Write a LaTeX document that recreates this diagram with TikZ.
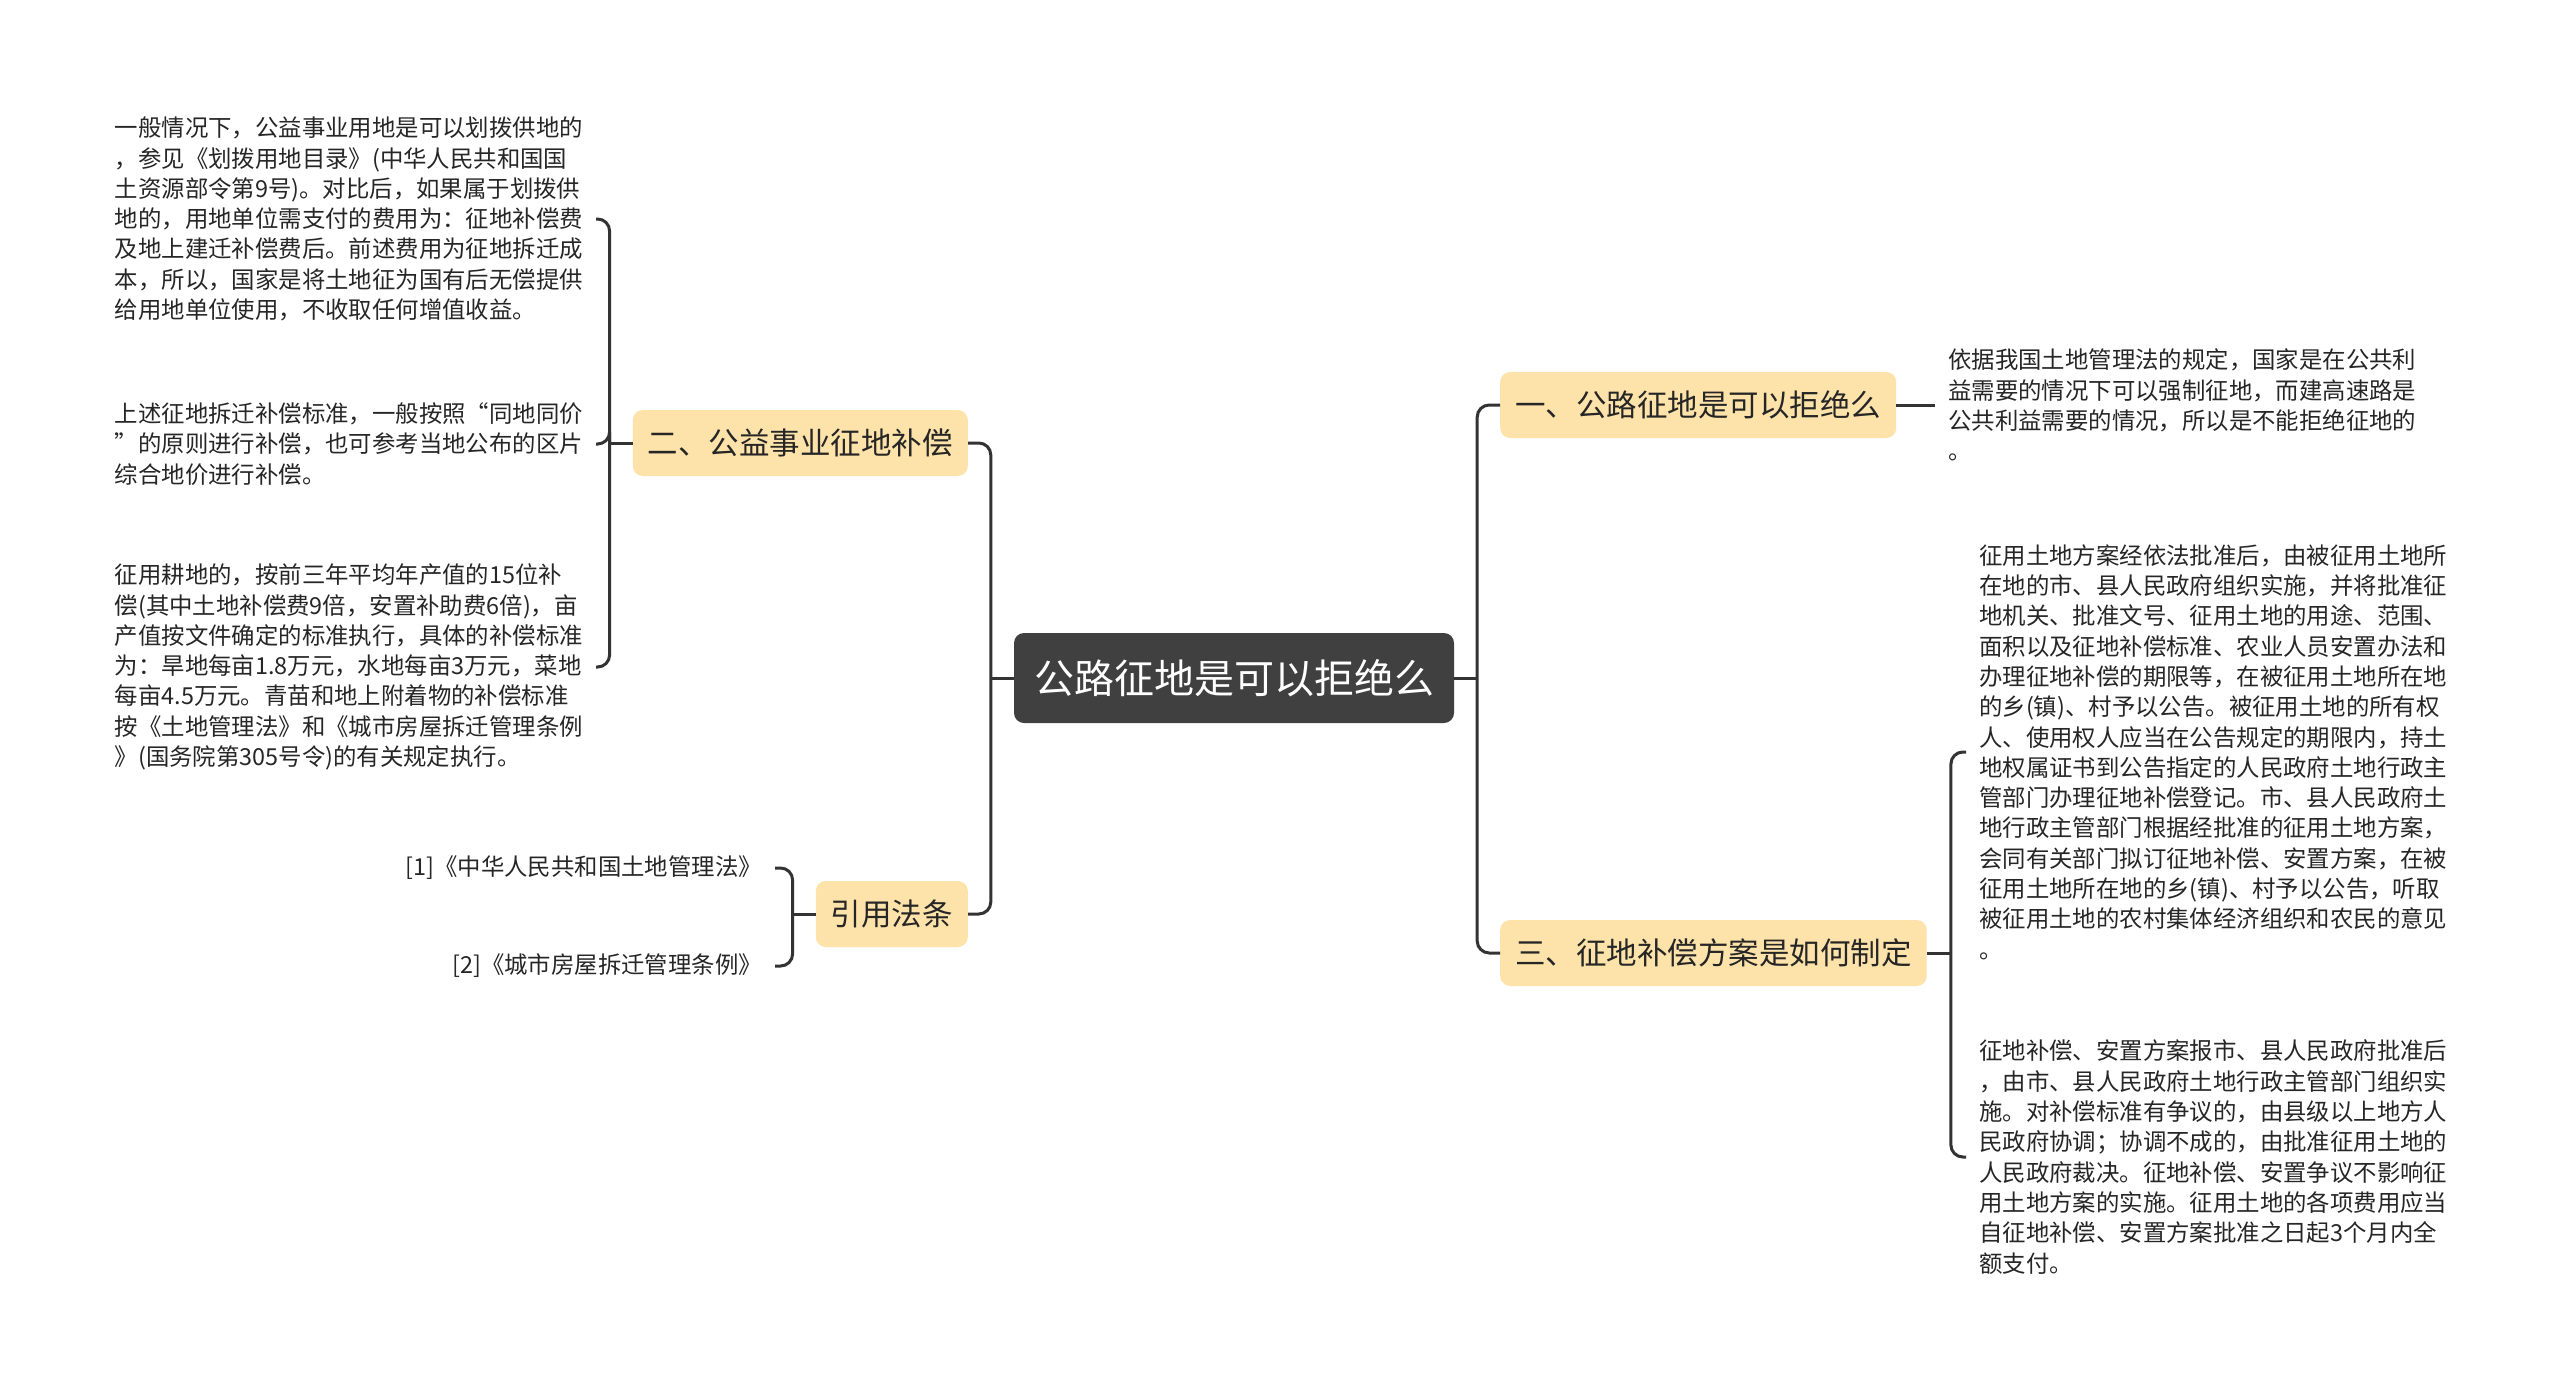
\documentclass[tikz,border=0pt]{standalone}
\usepackage{fontspec}
\newfontfamily\cjk{Noto Sans CJK SC}
\definecolor{mmdark}{RGB}{64,64,64}
\definecolor{mmtopic}{RGB}{253,227,170}
\definecolor{mmline}{RGB}{51,51,51}
\definecolor{mmtext}{RGB}{38,38,38}

\begin{document}
\begin{tikzpicture}[x=1pt, y=-1pt,
  rootbox/.style={fill=mmdark, rounded corners=10pt, text=white, inner xsep=20pt, minimum height=90pt, font=\cjk\fontsize{40}{40}\selectfont},
  topic/.style={fill=mmtopic, rounded corners=10pt, text=mmtext, inner xsep=15pt, minimum height=66pt, font=\cjk\fontsize{30.5}{30.5}\selectfont},
  leaf/.style={align=left, text=mmtext, inner xsep=13pt, inner ysep=0pt, font=\cjk\fontsize{23.4}{30.3}\selectfont},
  link/.style={draw=mmline, line width=3pt, rounded corners=12pt}]
  \fill[white] (0,0) rectangle (2560,1389);
  \useasboundingbox (0,0) rectangle (2560,1389);

  % central topic
  \node[rootbox] (root) at (1234,678) {公路征地是可以拒绝么};

  % main branches
  \node[topic, anchor=west] (q1) at (1500,405) {一、公路征地是可以拒绝么};
  \node[topic, anchor=west] (q3) at (1500,953) {三、征地补偿方案是如何制定};
  \node[topic, anchor=east] (q2) at (968,443) {二、公益事业征地补偿};
  \node[topic, anchor=east] (cite) at (968,914) {引用法条};

  % leaves of q2
  \node[leaf, anchor=east] (b1) at (596,219) {一般情况下，公益事业用地是可以划拨供地的\\，参见《划拨用地目录》(中华人民共和国国\\土资源部令第9号)。对比后，如果属于划拨供\\地的，用地单位需支付的费用为：征地补偿费\\及地上建迁补偿费后。前述费用为征地拆迁成\\本，所以，国家是将土地征为国有后无偿提供\\给用地单位使用，不收取任何增值收益。};
  \node[leaf, anchor=east] (b2) at (596,444) {上述征地拆迁补偿标准，一般按照“同地同价\\”的原则进行补偿，也可参考当地公布的区片\\综合地价进行补偿。};
  \node[leaf, anchor=east] (b3) at (596,667) {征用耕地的，按前三年平均年产值的15位补\\偿(其中土地补偿费9倍，安置补助费6倍)，亩\\产值按文件确定的标准执行，具体的补偿标准\\为：旱地每亩1.8万元，水地每亩3万元，菜地\\每亩4.5万元。青苗和地上附着物的补偿标准\\按《土地管理法》和《城市房屋拆迁管理条例\\》(国务院第305号令)的有关规定执行。};

  % leaves of cite
  \node[leaf, anchor=east] (d1) at (775,868) {[1]《中华人民共和国土地管理法》};
  \node[leaf, anchor=east] (d2) at (775,966) {[2]《城市房屋拆迁管理条例》};

  % leaf of q1
  \node[leaf, anchor=west] (a1) at (1935,405) {依据我国土地管理法的规定，国家是在公共利\\益需要的情况下可以强制征地，而建高速路是\\公共利益需要的情况，所以是不能拒绝征地的\\。};

  % leaves of q3
  \node[leaf, anchor=west] (c1) at (1966,752) {征用土地方案经依法批准后，由被征用土地所\\在地的市、县人民政府组织实施，并将批准征\\地机关、批准文号、征用土地的用途、范围、\\面积以及征地补偿标准、农业人员安置办法和\\办理征地补偿的期限等，在被征用土地所在地\\的乡(镇)、村予以公告。被征用土地的所有权\\人、使用权人应当在公告规定的期限内，持土\\地权属证书到公告指定的人民政府土地行政主\\管部门办理征地补偿登记。市、县人民政府土\\地行政主管部门根据经批准的征用土地方案，\\会同有关部门拟订征地补偿、安置方案，在被\\征用土地所在地的乡(镇)、村予以公告，听取\\被征用土地的农村集体经济组织和农民的意见\\。};
  \node[leaf, anchor=west] (c2) at (1966,1157) {征地补偿、安置方案报市、县人民政府批准后\\，由市、县人民政府土地行政主管部门组织实\\施。对补偿标准有争议的，由县级以上地方人\\民政府协调；协调不成的，由批准征用土地的\\人民政府裁决。征地补偿、安置争议不影响征\\用土地方案的实施。征用土地的各项费用应当\\自征地补偿、安置方案批准之日起3个月内全\\额支付。};

  % connectors
  \draw[link] (root.east) -- ++(23,0) coordinate (rs);
  \draw[link] (rs) |- (q1.west);
  \draw[link] (rs) |- (q3.west);
  \draw[link] (root.west) -- ++(-23,0) coordinate (ls);
  \draw[link] (ls) |- (q2.east);
  \draw[link] (ls) |- (cite.east);

  \draw[link] (q1.east) -- (a1.west);

  \draw[link] (q3.east) -- ++(24,0) coordinate (s3);
  \draw[link] (s3) |- (c1.west);
  \draw[link] (s3) |- (c2.west);

  \draw[link] (q2.west) -- ++(-23,0) coordinate (s2);
  \draw[link] (s2) |- (b1.east);
  \draw[link] (s2) |- (b2.east);
  \draw[link] (s2) |- (b3.east);

  \draw[link] (cite.west) -- ++(-23,0) coordinate (sc);
  \draw[link] (sc) |- (d1.east);
  \draw[link] (sc) |- (d2.east);
\end{tikzpicture}
\end{document}
